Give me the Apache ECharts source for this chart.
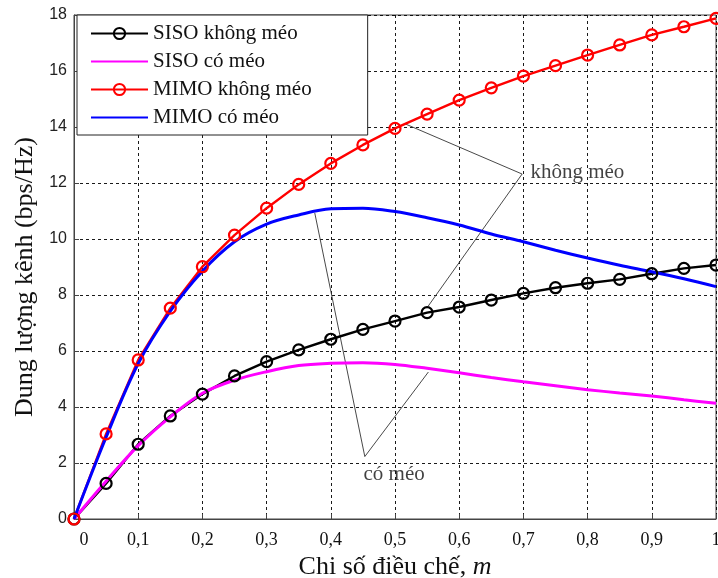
<!DOCTYPE html>
<html>
<head>
<meta charset="utf-8">
<script src="https://cdn.jsdelivr.net/npm/echarts@6/dist/echarts.min.js"></script>
<style>
html,body{margin:0;padding:0;background:#fff;}
#chart{width:718px;height:578px;}
</style>
</head>
<body>
<div id="chart"></div>
<script>
// ---- data ----
const mValues = [0,0.05,0.1,0.15,0.2,0.25,0.3,0.35,0.4,0.45,0.5,0.55,0.6,0.65,0.7,0.75,0.8,0.85,0.9,0.95,1.0];
const sisoKhongMeo = [0,1.27,2.67,3.68,4.46,5.11,5.62,6.04,6.42,6.77,7.07,7.37,7.57,7.82,8.06,8.26,8.42,8.56,8.76,8.95,9.07];
const sisoCoMeo    = [0,1.35,2.62,3.65,4.49,4.96,5.26,5.48,5.56,5.58,5.52,5.38,5.22,5.05,4.9,4.76,4.62,4.5,4.39,4.26,4.13];
const mimoKhongMeo = [0,3.04,5.68,7.53,9.01,10.14,11.1,11.95,12.7,13.36,13.95,14.46,14.96,15.4,15.82,16.19,16.57,16.93,17.29,17.58,17.88];
const mimoCoMeo    = [0,2.92,5.55,7.42,8.85,9.9,10.53,10.86,11.08,11.1,10.98,10.76,10.5,10.18,9.9,9.6,9.32,9.06,8.83,8.58,8.3];
const seriesNames = ['SISO không méo','SISO có méo','MIMO không méo','MIMO có méo'];
const xTickLabels = ['0','0,1','0,2','0,3','0,4','0,5','0,6','0,7','0,8','0,9','1'];
const yTickValues = [0,2,4,6,8,10,12,14,16,18];
const xTitle = 'Chi số điều chế, ';
const xTitleItalic = 'm';
const yTitle = 'Dung lượng kênh (bps/Hz)';
// annotation callouts (data coordinates)
const annotKhongMeoLine = [[0.516,14.11],[0.698,12.32],[0.551,7.58]];
const annotCoMeoLine = [[0.375,10.93],[0.453,2.23],[0.552,5.25]];
const annotTexts = ['không méo','có méo'];
const annotTextPos = [[0.711,12.39],[0.494,1.68]];

const pair = (ys) => ys.map((y,i) => [mValues[i], y]);
const serif = '"Liberation Serif","Times New Roman",serif';
const sans = '"Liberation Sans",Arial,sans-serif';

const chart = echarts.init(document.getElementById('chart'), null, {renderer:'canvas'});
const markerSeries = (name, data, color) => ({
  name, type:'line', data: pair(data), symbol:'circle', symbolSize:11, showSymbol:true,
  lineStyle:{color, width:2.4},
  itemStyle:{color:'rgba(255,255,255,0)', borderColor:color, borderWidth:2.2},
  z:3
});
const plainSeries = (name, data, color) => ({
  name, type:'line', data: pair(data), symbol:'none', showSymbol:false, smooth:0.35,
  lineStyle:{color, width:3}, itemStyle:{color}, z:3
});
const noMarker = {color:'rgba(0,0,0,0)', borderWidth:0, borderColor:'rgba(0,0,0,0)'};

chart.setOption({
  animation:false,
  backgroundColor:'#fff',
  grid:{left:74, right:2, top:15, bottom:59, show:true, borderColor:'#444', borderWidth:1,
    backgroundColor:'transparent', containLabel:false, outerBoundsMode:'none'},
  legend:{
    data:[
      {name:seriesNames[0]},
      {name:seriesNames[1], itemStyle:noMarker},
      {name:seriesNames[2]},
      {name:seriesNames[3], itemStyle:noMarker}
    ],
    orient:'vertical', left:77, top:15,
    backgroundColor:'#fff', borderColor:'#222', borderWidth:1,
    padding:[8,56,7,13], itemGap:7, itemWidth:57, itemHeight:14,
    textStyle:{fontFamily:serif, fontSize:21, color:'#111', lineHeight:21},
    z:10
  },
  xAxis:{
    type:'value', min:0, max:1, interval:0.1,
    name: xTitle + '{i|' + xTitleItalic + '}', nameLocation:'middle', nameGap:28,
    nameTextStyle:{fontFamily:serif, fontSize:26, color:'#111', rich:{i:{fontFamily:serif, fontSize:26, fontStyle:'italic', color:'#111'}}},
    axisLine:{show:true, lineStyle:{color:'#444', width:1}},
    axisTick:{show:true, inside:true, length:5, lineStyle:{color:'#444'}},
    axisLabel:{fontFamily:serif, fontSize:18, color:'#111', margin:12,
      formatter:(v)=> { const i=Math.round(v*10); return i===0 ? '{z|'+xTickLabels[0]+'}' : xTickLabels[i]; },
      rich:{z:{fontFamily:serif, fontSize:18, color:'#111', padding:[0,0,0,20]}}},
    splitLine:{show:true, lineStyle:{color:'#000', type:[3,3], width:0.9}}
  },
  yAxis:{
    type:'value', min:yTickValues[0], max:yTickValues[yTickValues.length-1], interval:2,
    name:yTitle, nameLocation:'middle', nameGap:36, nameRotate:90,
    nameTextStyle:{fontFamily:serif, fontSize:26, color:'#111', padding:[0,20,0,0]},
    axisLine:{show:true, lineStyle:{color:'#444', width:1}},
    axisTick:{show:true, inside:true, length:5, lineStyle:{color:'#444'}},
    axisLabel:{fontFamily:sans, fontSize:16, color:'#222', margin:7},
    splitLine:{show:true, lineStyle:{color:'#000', type:[3,3], width:0.9}}
  },
  series:[
    markerSeries(seriesNames[0], sisoKhongMeo, '#000000'),
    plainSeries(seriesNames[1], sisoCoMeo, '#ff00ff'),
    markerSeries(seriesNames[2], mimoKhongMeo, '#ff0000'),
    plainSeries(seriesNames[3], mimoCoMeo, '#0000ff'),
    {name:'annot1', type:'line', data:annotKhongMeoLine, symbol:'none', silent:true,
      lineStyle:{color:'#333', width:0.9}, z:2},
    {name:'annot2', type:'line', data:annotCoMeoLine, symbol:'none', silent:true,
      lineStyle:{color:'#333', width:0.9}, z:2},
    {name:'annotText', type:'scatter', symbolSize:0, silent:true, z:4,
      data:[
        {value:annotTextPos[0], label:{show:true, formatter:annotTexts[0], position:'right', distance:0}},
        {value:annotTextPos[1], label:{show:true, formatter:annotTexts[1], position:'inside', offset:[3,3]}}
      ],
      label:{fontFamily:serif, fontSize:21, color:'#111'}
    }
  ]
});
</script>
</body>
</html>
